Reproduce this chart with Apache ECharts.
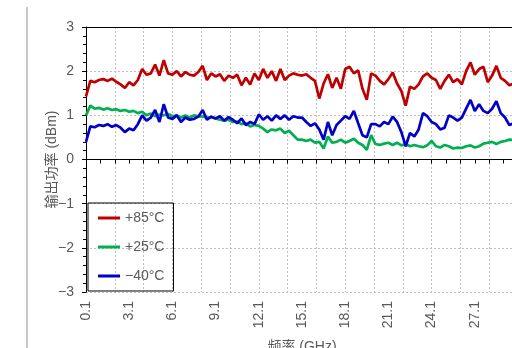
<!DOCTYPE html>
<html>
<head>
<meta charset="utf-8">
<script src="https://cdn.jsdelivr.net/npm/echarts@6/dist/echarts.min.js"></script>
<style>
  html, body { margin: 0; padding: 0; overflow: hidden; background: #fff; }
  #chart { width: 600px; height: 348px; }
</style>
</head>
<body>
<div id="chart"></div>
<script>
// frequency grid (GHz): 0.1 .. 30.1 in 0.3 steps
const F0 = 0.1;
const STEP = 0.3;

const seriesNames = ['+85°C', '+25°C', '−40°C'];
const seriesColors = ['#c00000', '#00b050', '#0000c8'];

const hot = [
  1.43, 1.78, 1.75, 1.8, 1.82, 1.78, 1.83, 1.76, 1.7, 1.62, 1.75, 1.68, 1.8, 2.05, 1.92, 1.95, 2.15, 1.9, 2.25, 1.95, 1.92, 2.0, 1.88, 1.98, 1.92,
  1.9, 1.98, 2.12, 1.8, 1.95, 1.88, 1.93, 1.78, 1.9, 1.85, 1.92, 1.68, 1.85, 1.7, 1.95, 1.8, 2.05, 1.85, 2.0, 1.78, 2.05, 1.8, 1.9, 1.95, 1.92,
  1.9, 1.93, 1.85, 1.78, 1.38, 1.72, 1.93, 1.62, 1.85, 1.6, 2.05, 2.1, 1.95, 2.02, 1.6, 1.35, 1.95, 1.9, 1.78, 1.7, 1.82, 1.97, 1.72, 1.55,
  1.22, 1.65, 1.6, 1.7, 1.88, 1.95, 1.85, 1.8, 1.6, 1.78, 1.92, 1.75, 1.82, 1.7, 2.0, 2.2, 1.92, 2.05, 2.1, 1.75, 1.9, 2.12, 1.85, 1.78, 1.68,
  1.72, 1.7
];
const room = [
  1.0, 1.22, 1.15, 1.17, 1.13, 1.16, 1.12, 1.14, 1.1, 1.12, 1.08, 1.1, 1.05, 1.08, 1.0, 1.04, 0.98, 1.02, 1.0, 1.03, 0.98, 1.0, 0.95, 1.0, 0.95,
  1.0, 0.98, 0.97, 0.95, 0.96, 0.93, 0.9, 0.88, 0.9, 0.85, 0.86, 0.8, 0.82, 0.75, 0.78, 0.76, 0.7, 0.62, 0.68, 0.66, 0.7, 0.6, 0.65, 0.55, 0.45,
  0.45, 0.42, 0.45, 0.38, 0.4, 0.25, 0.52, 0.38, 0.4, 0.45, 0.38, 0.42, 0.47, 0.38, 0.33, 0.22, 0.55, 0.35, 0.33, 0.36, 0.38, 0.33, 0.38, 0.32,
  0.35, 0.3, 0.33, 0.3, 0.28, 0.32, 0.42, 0.3, 0.27, 0.33, 0.3, 0.25, 0.27, 0.26, 0.3, 0.32, 0.27, 0.3, 0.36, 0.38, 0.4, 0.35, 0.4, 0.42, 0.45,
  0.44, 0.46
];
const cold = [
  0.4, 0.75, 0.73, 0.78, 0.76, 0.8, 0.74, 0.78, 0.72, 0.62, 0.7, 0.66, 0.8, 1.0, 0.88, 0.95, 1.12, 0.85, 1.25, 0.95, 0.92, 1.0, 0.85, 0.95, 0.9,
  0.92, 0.97, 1.12, 0.9, 0.97, 0.93, 0.98, 0.88, 0.96, 0.9, 0.82, 0.93, 0.78, 0.85, 0.8, 1.02, 0.9, 0.98, 0.88, 1.0, 0.92, 1.0, 0.9, 0.98, 0.95,
  0.95, 0.85, 0.76, 0.82, 0.68, 0.45, 0.85, 0.55, 0.78, 0.88, 0.98, 0.92, 1.1, 0.82, 0.55, 0.5, 0.8, 0.8, 0.75, 0.85, 0.8, 0.97, 0.85, 0.62,
  0.3, 0.6, 0.52, 0.68, 1.05, 0.98, 0.85, 0.8, 0.68, 0.72, 1.0, 0.95, 0.88, 0.95, 1.15, 1.35, 1.1, 1.25, 1.1, 1.05, 1.15, 1.32, 1.05, 0.95, 0.78,
  0.82, 0.8
];

const FONT = "'Liberation Sans', 'Noto Sans CJK SC', sans-serif";
const GRAY = '#595959';
const dash = { color: '#bfbfbf', width: 1, type: [2, 2] };

// x axis runs on offset (f - F0) so ticks land on 0.1, 1.1, 2.1 ...
const toPoints = vals => vals.map((v, i) => [+(i * STEP).toFixed(2), v]);

const chart = echarts.init(document.getElementById('chart'), null, { renderer: 'canvas' });
chart.setOption({
  animation: false,
  textStyle: { fontFamily: FONT },
  graphic: [{
    type: 'rect', shape: { x: 26, y: 7, width: 2, height: 341 },
    style: { fill: '#c8c8c8' }, silent: true
  }],
  grid: { left: 86, top: 27, right: 82, bottom: 56, containLabel: false, outerBoundsMode: 'none' },
  legend: {
    data: seriesNames,
    orient: 'vertical', left: 88, top: 203,
    borderColor: '#000', borderWidth: 1,
    padding: [8, 9, 8, 10],
    icon: 'rect', itemWidth: 22, itemHeight: 3, itemGap: 15,
    textStyle: { fontSize: 14, color: GRAY, fontFamily: FONT }
  },
  xAxis: [{
    type: 'value', min: 0, max: 30, interval: 1,
    name: '频率 (GHz)', nameLocation: 'middle', nameGap: 48, nameMoveOverlap: false,
    nameTextStyle: { fontSize: 14, color: GRAY },
    axisLine: { lineStyle: { color: '#000', width: 1 } },
    axisTick: { show: true, length: 4, lineStyle: { color: '#000' } },
    axisLabel: {
      rotate: 90, fontSize: 14, color: GRAY, margin: 9,
      formatter: v => (Math.round(v) % 3 === 0 ? (v + F0).toFixed(1) : '')
    },
    splitLine: { show: false }
  }, {
    type: 'value', position: 'top', min: 0, max: 30, interval: 2,
    axisLine: { show: true, lineStyle: { color: '#000', width: 1 } },
    axisTick: { show: false }, axisLabel: { show: false },
    splitLine: { show: true, lineStyle: dash }
  }],
  yAxis: {
    type: 'value', min: -3, max: 3, interval: 1,
    name: '输出功率 (dBm)', nameLocation: 'middle', nameGap: 27, nameMoveOverlap: false,
    nameTextStyle: { fontSize: 14, color: GRAY },
    axisLine: { show: true, lineStyle: { color: '#000', width: 1 } },
    axisTick: { show: true, length: 4, lineStyle: { color: '#000' } },
    minorTick: { show: true, splitNumber: 5, length: 3, lineStyle: { color: '#000' } },
    axisLabel: {
      fontSize: 14, color: GRAY, margin: 12,
      formatter: v => (v < 0 ? '−' + Math.abs(v) : String(v))
    },
    splitLine: { show: true, lineStyle: dash }
  },
  series: [hot, room, cold].map((vals, k) => ({
    name: seriesNames[k],
    type: 'line',
    xAxisIndex: 0,
    data: toPoints(vals),
    symbol: 'none',
    lineStyle: { color: seriesColors[k], width: 2.7 },
    itemStyle: { color: seriesColors[k] }
  }))
});
</script>
</body>
</html>
